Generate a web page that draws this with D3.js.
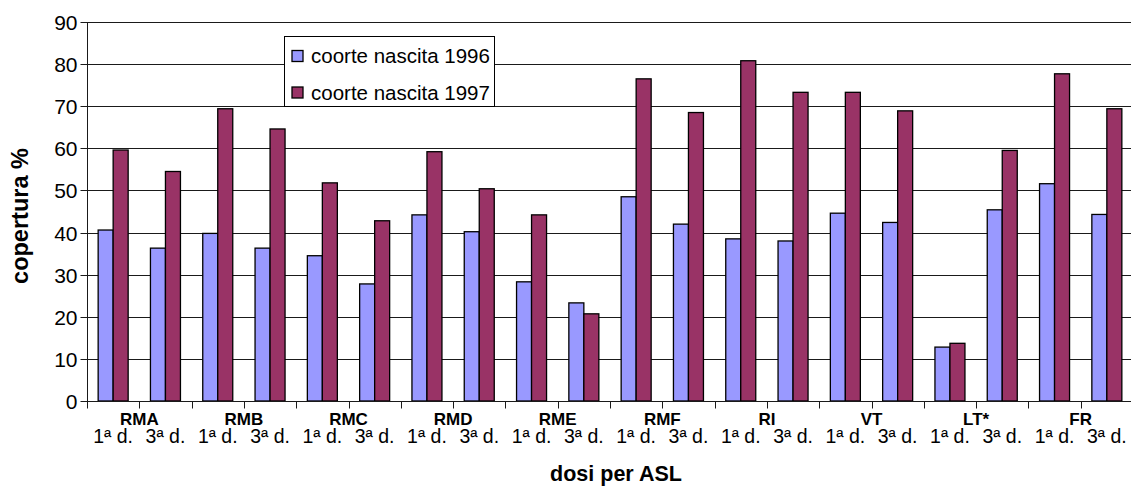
<!DOCTYPE html>
<html>
<head>
<meta charset="utf-8">
<script src="https://cdn.jsdelivr.net/npm/d3@7/dist/d3.min.js"></script>
<style>
  html, body { margin: 0; padding: 0; background: #fff; }
  svg { display: block; font-family: "Liberation Sans", Arial, sans-serif; }
</style>
</head>
<body>
<svg id="chart" width="1131" height="486"></svg>
<script>
// Vaccination coverage by health district (ASL) and dose, two birth cohorts
const groups = ["RMA", "RMB", "RMC", "RMD", "RME", "RMF", "RI", "VT", "LT*", "FR"];
const doses = ["1ª d.", "3ª d."];
const seriesNames = ["coorte nascita 1996", "coorte nascita 1997"];
const cohort1996 = [40.6, 36.3, 39.8, 36.3, 34.5, 27.8, 44.2, 40.2, 28.3, 23.3,
                    48.5, 42.0, 38.5, 38.0, 44.6, 42.4, 12.8, 45.4, 51.6, 44.3];
const cohort1997 = [59.6, 54.5, 69.4, 64.6, 51.8, 42.8, 59.2, 50.4, 44.2, 20.7,
                    76.5, 68.5, 80.8, 73.3, 73.3, 68.9, 13.7, 59.5, 77.7, 69.4];
const yTicks = [0, 10, 20, 30, 40, 50, 60, 70, 80, 90];
const colors = ["#9999FF", "#993366"];

(function draw() {
  const svg = d3.select("#chart");
  const plotLeft = 87, plotRight = 1133, plotTop = 22, plotBottom = 401;

  // one slot per (district, dose) pair
  const slots = [];
  groups.forEach((g, gi) => doses.forEach((d, di) => slots.push({ g, d, key: gi + "-" + di })));

  const x = d3.scaleBand().domain(slots.map(s => s.key)).range([plotLeft, plotRight]);
  const sub = d3.scaleBand().domain([0, 1]).range([0, 30]);
  const y = d3.scaleLinear().domain([0, 90]).range([plotBottom, plotTop]);

  const crisp = v => Math.round(v) + 0.5;
  const lineColor = "#1a1a1a";

  // horizontal gridlines
  svg.append("g").selectAll("line").data(yTicks).join("line")
    .attr("x1", plotLeft).attr("x2", plotRight)
    .attr("y1", d => crisp(y(d))).attr("y2", d => crisp(y(d)))
    .attr("stroke", lineColor).attr("stroke-width", 1);

  // y axis
  const yAxis = svg.append("g").attr("transform", `translate(${crisp(plotLeft)},0)`)
    .call(d3.axisLeft(y).tickValues(yTicks).tickSize(7).tickPadding(3).tickFormat(d3.format("d")));
  yAxis.select(".domain").attr("stroke", lineColor).attr("d", `M0,${crisp(y(90))}V${crisp(y(0))}`);
  yAxis.selectAll(".tick").attr("transform", d => `translate(0,${crisp(y(d))})`);
  yAxis.selectAll(".tick line").attr("stroke", lineColor);
  yAxis.selectAll(".tick text").attr("font-size", 21).attr("fill", "#000")
    .attr("font-family", "'Liberation Sans', Arial, sans-serif").attr("dy", "0.35em");

  // bars
  const bw = sub.bandwidth();
  [cohort1996, cohort1997].forEach((vals, si) => {
    svg.append("g").selectAll("rect").data(vals).join("rect")
      .attr("x", (v, i) => x(slots[i].key) + (x.bandwidth() - 30) / 2 + sub(si))
      .attr("y", v => y(v))
      .attr("width", bw)
      .attr("height", v => y(0) - y(v))
      .attr("fill", colors[si])
      .attr("stroke", "#000").attr("stroke-width", 1.3);
  });

  // x axis line and tick marks at every slot boundary
  svg.append("line").attr("x1", plotLeft).attr("x2", plotRight)
    .attr("y1", crisp(plotBottom)).attr("y2", crisp(plotBottom)).attr("stroke", lineColor);
  const bounds = d3.range(slots.length + 1).map(i => plotLeft + i * x.bandwidth());
  svg.append("g").selectAll("line").data(bounds).join("line")
    .attr("x1", d => crisp(d)).attr("x2", d => crisp(d))
    .attr("y1", crisp(plotBottom)).attr("y2", plotBottom + 7.5)
    .attr("stroke", lineColor);

  // dose labels under each slot
  svg.append("g").selectAll("text").data(slots).join("text")
    .attr("x", s => x(s.key) + x.bandwidth() / 2)
    .attr("y", 443)
    .attr("text-anchor", "middle")
    .attr("font-size", 19.5)
    .text(s => s.d);

  // district labels centred on each pair
  svg.append("g").selectAll("text").data(groups).join("text")
    .attr("x", (g, i) => plotLeft + (2 * i + 1) * x.bandwidth())
    .attr("y", 424.5)
    .attr("text-anchor", "middle")
    .attr("font-size", 17)
    .attr("font-weight", "bold")
    .text(g => g);

  // axis titles
  svg.append("text")
    .attr("x", 616).attr("y", 481)
    .attr("text-anchor", "middle")
    .attr("font-size", 21.5).attr("font-weight", "bold")
    .text("dosi per ASL");

  svg.append("text")
    .attr("transform", "translate(27.5,216) rotate(-90)")
    .attr("text-anchor", "middle")
    .attr("font-size", 23.5).attr("font-weight", "bold")
    .text("copertura %");

  // legend
  const lg = svg.append("g");
  lg.append("rect").attr("x", 284.5).attr("y", 36.5).attr("width", 210).attr("height", 70)
    .attr("fill", "#fff").attr("stroke", "#000").attr("stroke-width", 1);
  seriesNames.forEach((name, i) => {
    const cy = 56 + i * 36.5;
    lg.append("rect").attr("x", 292).attr("y", cy - 5.5).attr("width", 11).attr("height", 11)
      .attr("fill", colors[i]).attr("stroke", "#000").attr("stroke-width", 1.3);
    lg.append("text").attr("x", 311).attr("y", cy + 7)
      .attr("font-size", 20.5).text(name);
  });
})();
</script>
</body>
</html>
